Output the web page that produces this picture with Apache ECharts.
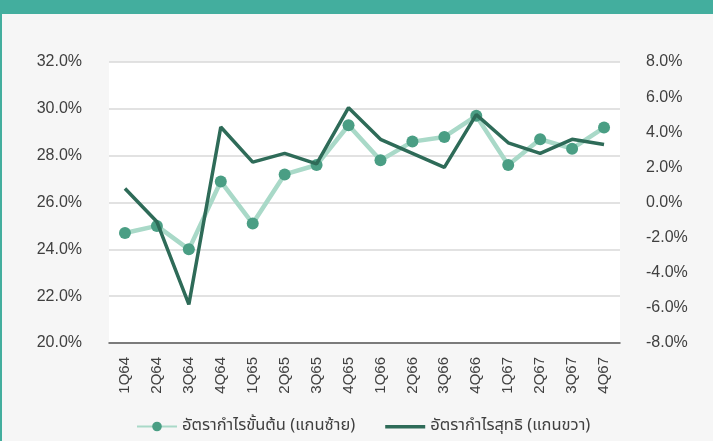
<!DOCTYPE html>
<html>
<head>
<meta charset="utf-8">
<script src="https://cdn.jsdelivr.net/npm/echarts@6/dist/echarts.min.js"></script>
<style>
html,body{margin:0;padding:0;width:713px;height:441px;overflow:hidden;background:#f6f6f6;}
#hdr{position:absolute;left:0;top:0;width:713px;height:14px;background:#43ae9e;}
#lb{position:absolute;left:0;top:14px;width:2px;height:427px;background:#43ae9e;}
#c{position:absolute;left:0;top:0;width:713px;height:441px;}
</style>
</head>
<body>
<div id="c"></div>
<div id="hdr"></div>
<div id="lb"></div>
<script>
const categories = ['1Q64','2Q64','3Q64','4Q64','1Q65','2Q65','3Q65','4Q65','1Q66','2Q66','3Q66','4Q66','1Q67','2Q67','3Q67','4Q67'];
const grossMargin = [24.7, 25.0, 24.0, 26.9, 25.1, 27.2, 27.6, 29.3, 27.8, 28.6, 28.8, 29.7, 27.6, 28.7, 28.3, 29.2];
const netMargin = [0.8, -1.1, -5.8, 4.3, 2.3, 2.8, 2.2, 5.4, 3.6, 2.8, 2.0, 5.0, 3.4, 2.8, 3.6, 3.3];
const seriesNames = ['อัตรากำไรขั้นต้น (แกนซ้าย)', 'อัตรากำไรสุทธิ (แกนขวา)'];

const chart = echarts.init(document.getElementById('c'));
const fam = 'Liberation Sans, Arial, Noto Sans, sans-serif';
chart.setOption({
  animation: false,
  textStyle: {fontFamily: fam},
  grid: {left: 109, right: 93, top: 62, bottom: 98, show: true, backgroundColor: '#ffffff', borderWidth: 0},
  legend: {
    bottom: 1, left: 131, itemWidth: 40, itemHeight: 12, itemGap: 30,
    textStyle: {fontSize: 16.5, color: '#404040', fontFamily: 'Noto Sans Thai, Noto Sans, sans-serif'},
    data: [
      {name: seriesNames[0]},
      {name: seriesNames[1], icon: 'path://M0,0 M40,12 M0,4.5 L40,4.5 L40,8 L0,8 Z'}
    ]
  },
  xAxis: {
    type: 'category', data: categories, boundaryGap: true,
    axisLine: {onZero: false, lineStyle: {color: '#595959', width: 1.5}},
    axisTick: {show: false},
    axisLabel: {rotate: 90, fontSize: 15, color: '#404040', margin: 14, interval: 0}
  },
  yAxis: [{
    type: 'value', min: 20, max: 32, interval: 2, position: 'left',
    axisLine: {show: false}, axisTick: {show: false},
    splitLine: {lineStyle: {color: '#d9d9d9', width: 1.5}},
    axisLabel: {fontSize: 16, color: '#404040', margin: 27, formatter: v => v.toFixed(1) + '%'}
  }, {
    type: 'value', min: -8, max: 8, interval: 2, position: 'right',
    axisLine: {show: false}, axisTick: {show: false}, splitLine: {show: false},
    axisLabel: {fontSize: 16, color: '#404040', margin: 26, formatter: v => v.toFixed(1) + '%'}
  }],
  series: [{
    name: seriesNames[0], type: 'line', yAxisIndex: 0, data: grossMargin,
    symbol: 'circle', symbolSize: 12,
    lineStyle: {color: '#a9d9c8', width: 4.5},
    itemStyle: {color: '#4a9e84'},
    z: 2
  }, {
    name: seriesNames[1], type: 'line', yAxisIndex: 1, data: netMargin,
    symbol: 'none', showSymbol: false,
    lineStyle: {color: '#2e6b58', width: 3.5},
    itemStyle: {color: '#2e6b58'},
    z: 3
  }]
});
</script>
</body>
</html>
